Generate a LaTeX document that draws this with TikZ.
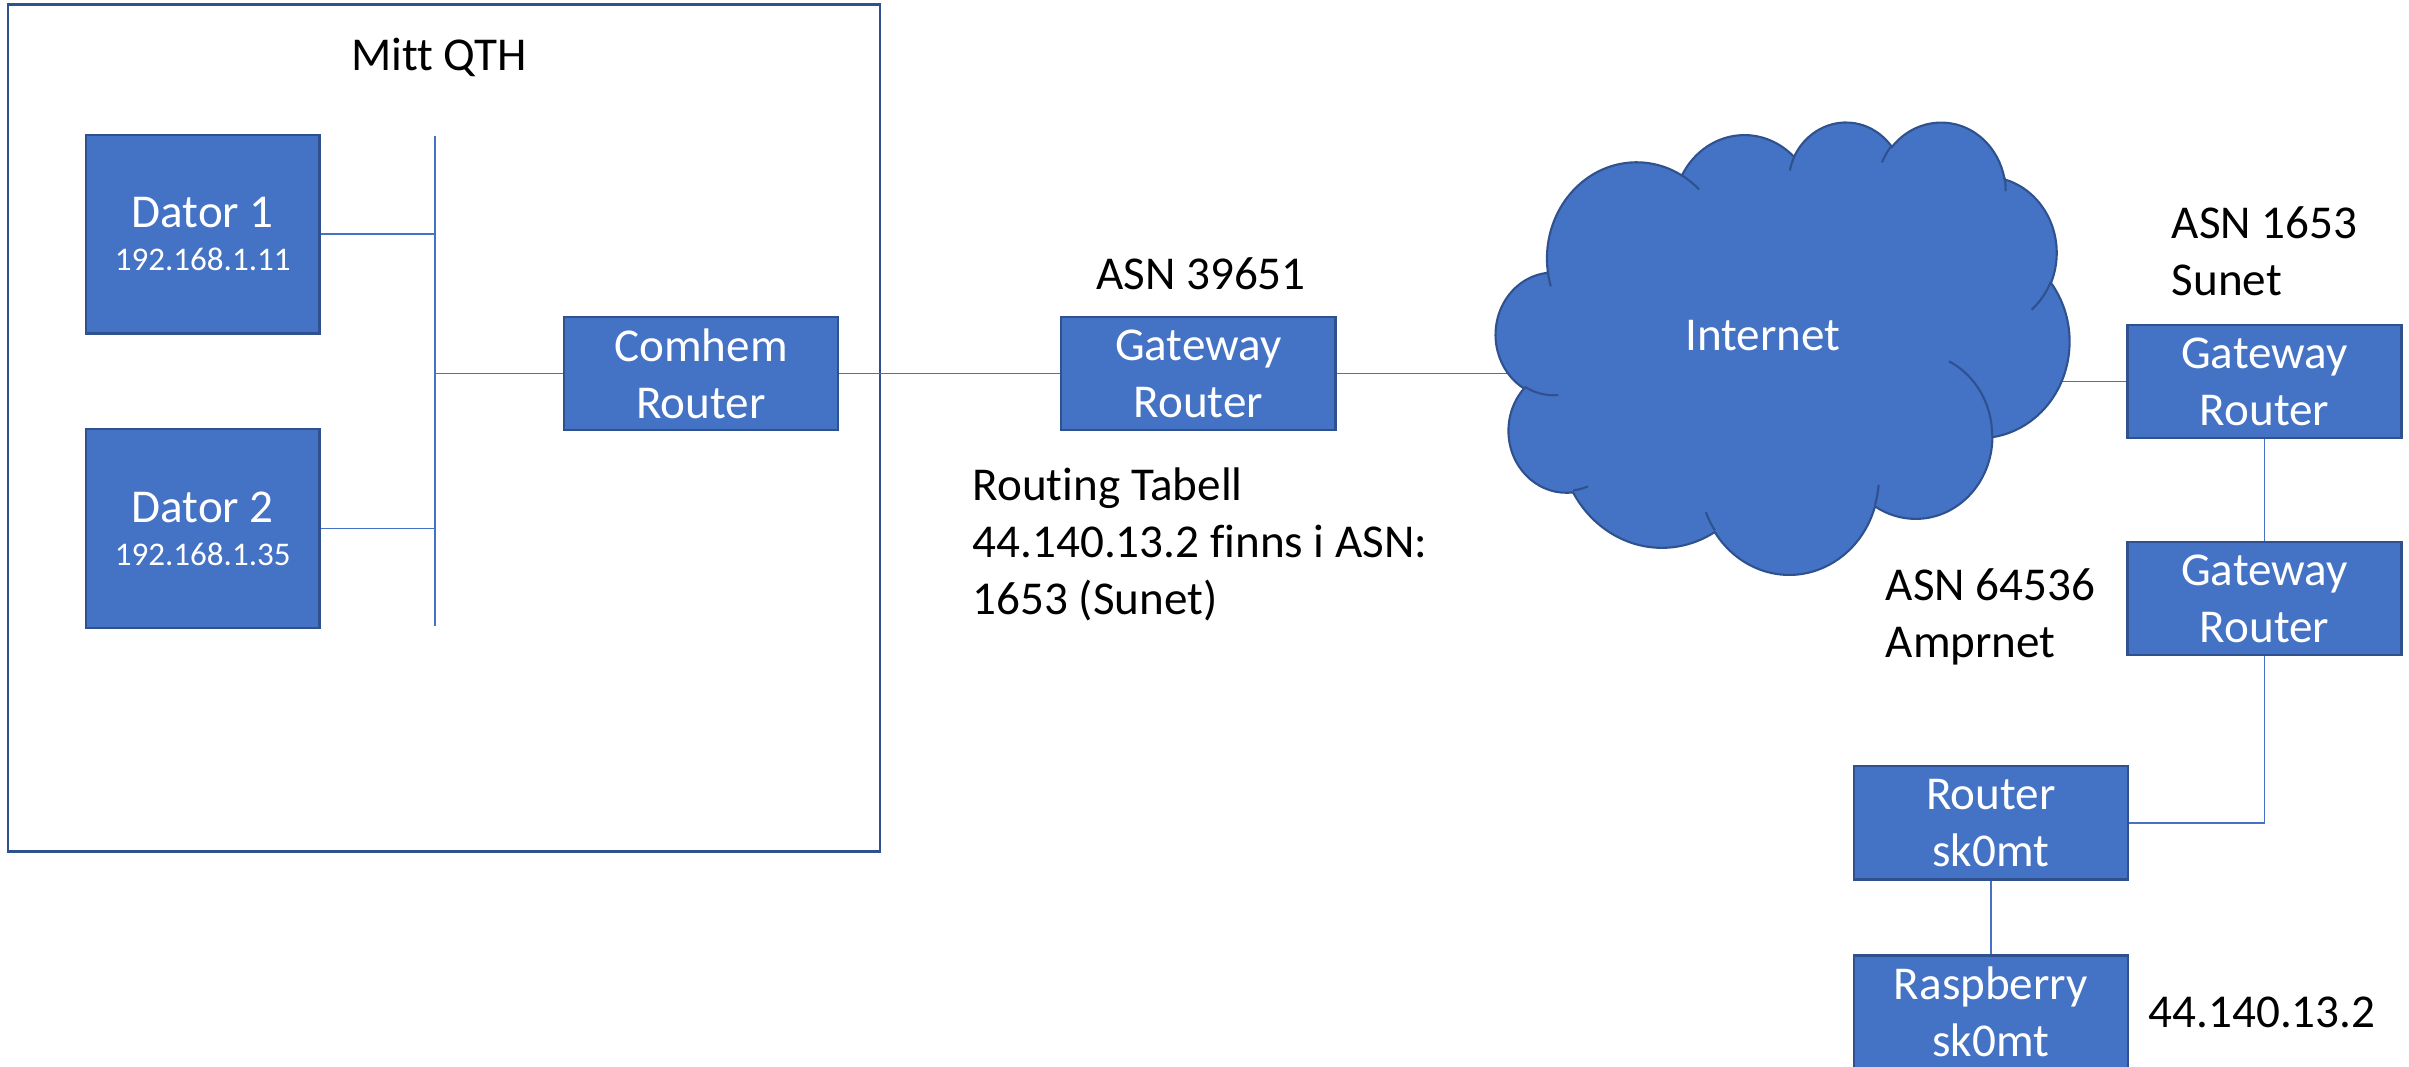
\documentclass[tikz,border=0pt]{standalone}
\usepackage{fontspec}
\setmainfont{Carlito}[Ligatures=NoCommon]
\usetikzlibrary{positioning}

\definecolor{netfill}{HTML}{4472C4}
\definecolor{netedge}{HTML}{2F528F}

\newcommand\bigtext{\fontsize{13.4}{16.2}\selectfont}
\newcommand\iptext{\fontsize{9.4}{11.4}\selectfont}
% one lobe of the cloud: radii, start angle and sweep as seen on the page
\newcommand\cloudarc[4]{arc[start angle={atan2(#1*sin(#3),#2*cos(#3))},
  delta angle={mod(atan2(#1*sin(#3+#4),#2*cos(#3+#4))-atan2(#1*sin(#3),#2*cos(#3))+720,360)},
  x radius=#1, y radius=#2]}

\tikzset{
  netbox/.style={draw=netedge, fill=netfill, line width=0.7pt, text=white, align=center,
    font=\bigtext, inner sep=0pt, minimum width=2.74cm, minimum height=1.13cm},
  pcbox/.style={netbox, minimum width=2.335cm, minimum height=1.985cm},
  lbl/.style={inner sep=0pt, font=\bigtext},
  wire/.style={draw=netfill, line width=0.45pt},
  netcloud/.style={fill=netfill, draw=netedge, line width=0.6pt}
}

\begin{document}
\begin{tikzpicture}[x=0.01cm, y=-0.01cm, on grid, node distance=2cm]
\useasboundingbox (0,0) rectangle (2409,1066);
\clip (0,0) rectangle (2409,1066);

% home network
\draw[draw=netedge, line width=0.7pt] (8,4.5) rectangle (880,851.5);
\node[lbl, anchor=base] (qth) at (439,70) {Mitt QTH};
\node[pcbox] (d1) at (202.75,234.25) {Dator 1\\[-4pt]{\iptext 192.168.1.11}};
\node[pcbox, below=2.94cm of d1] (d2) {Dator 2\\[-4pt]{\iptext 192.168.1.35}};
\node[netbox] (comhem) at (701,373.5) {Comhem\\Router};
\coordinate (busT) at (435,136);
\coordinate (busB) at (435,626);

% provider
\node[netbox, right=4.97cm of comhem] (gw1) {Gateway\\Router};
\node[lbl, anchor=base] (asn1) at (1201,289) {ASN 39651};
\node[lbl, align=left, anchor=north west] (rtab) at (972,467)
  {Routing Tabell\\44.140.13.2 finns i ASN:\\1653 (Sunet)};

% sunet and amprnet
\node[netbox] (sunet) at (2264.5,381.5) {Gateway\\Router};
\node[netbox, below=2.17cm of sunet] (ampr) {Gateway\\Router};
\node[netbox, below left=2.24cm and 2.735cm of ampr] (rsk) {Router\\sk0mt};
\node[netbox, below=1.89cm of rsk] (rasp) {Raspberry\\sk0mt};
\node[lbl, align=left, anchor=north west] (asn2) at (2171,206) {ASN 1653\\Sunet};
\node[lbl, align=left, anchor=north west] (asn3) at (1885,568) {ASN 64536\\Amprnet};
\node[lbl, anchor=base west] (ip) at (2148,1027) {44.140.13.2};

\coordinate (cloudc) at (1783,347);

% wires
\draw[wire] (busT) -- (busB);
\draw[wire] (d1.east) -- (d1.east -| busT);
\draw[wire] (d2.east) -- (d2.east -| busT);
\draw[wire] (comhem.west) -- (comhem.west -| busT);
\draw[wire] (comhem) -- (gw1);
\draw[wire] (gw1.east) -- (gw1.east -| cloudc);
\draw[wire] (sunet.west) -- (sunet.west -| cloudc);
\draw[wire] (sunet) -- (ampr);
\draw[wire] (ampr.south) |- (rsk.east);
\draw[wire] (rsk) -- (rasp);

% the cloud
\begin{scope}[shift={(1496,121)}, x=0.13264cm, y=-0.10463cm]
\filldraw[netcloud] (3.9,14.37)
  \cloudarc{6.753}{9.190}{-190.48748}{123.78053}
  \cloudarc{5.333}{7.267}{-144.10238}{89.94523}
  \cloudarc{4.365}{5.945}{-145.80792}{99.72302}
  \cloudarc{4.857}{6.595}{-130.98607}{117.24173}
  \cloudarc{5.333}{7.273}{-78.70888}{109.02692}
  \cloudarc{6.775}{9.220}{-46.26725}{130.269}
  \cloudarc{5.785}{7.867}{0.62502}{114.03333}
  \cloudarc{6.752}{9.215}{22.4516}{115.17255}
  \cloudarc{7.720}{10.543}{66.24263}{75.71102}
  \cloudarc{4.360}{5.918}{-274.94208}{146.73557}
  \cloudarc{4.345}{5.945}{-246.8285}{152.51885} -- cycle;
\draw[netcloud, fill=none]
  (4.693,26.177) \cloudarc{4.345}{5.945}{86.742}{26.4295}
  (6.928,34.899) \cloudarc{4.360}{5.918}{73.61047}{11.44747}
  (16.478,39.090) \cloudarc{6.752}{9.215}{137.62415}{14.0811}
  (28.827,34.751) \cloudarc{6.752}{9.215}{6.45327}{15.99835}
  (34.129,22.954) \cloudarc{5.785}{7.867}{-70.29235}{70.91737}
  (41.798,15.354) \cloudarc{5.333}{7.273}{30.31803}{27.7515}
  (38.324,5.426) \cloudarc{4.857}{6.595}{-13.74433}{14.8589}
  (29.078,3.952) \cloudarc{4.857}{6.595}{-149.18145}{18.19537}
  (22.141,4.720) \cloudarc{4.365}{5.945}{-163.49427}{17.68635}
  (14.000,5.192) \cloudarc{6.753}{9.190}{-66.70695}{12.31935}
  (4.127,15.789) \cloudarc{6.753}{9.190}{157.65435}{11.85817};
\end{scope}
\node[lbl, text=white, anchor=base] (inet) at (1763,350) {Internet};
\end{tikzpicture}
\end{document}
